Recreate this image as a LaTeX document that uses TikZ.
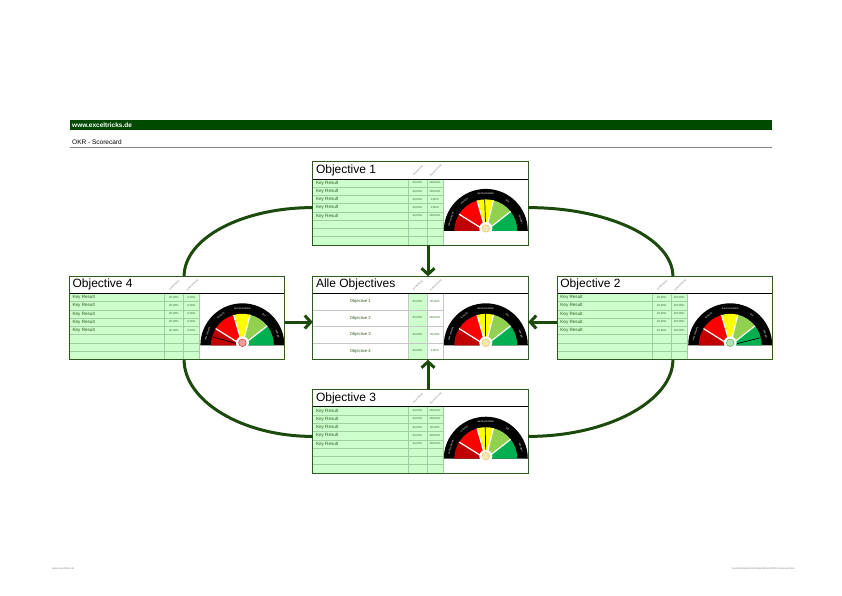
\documentclass[tikz,border=0pt]{standalone}
\usepackage{fontspec}
\setmainfont{Liberation Sans}
\usetikzlibrary{positioning, arrows.meta}

\definecolor{okrbar}{HTML}{004A00}
\definecolor{okrdark}{HTML}{1C4A0C}
\definecolor{okrframe}{HTML}{2F5A1F}
\definecolor{krfill}{HTML}{CCFFCC}
\definecolor{krline}{HTML}{9FCF9F}
\definecolor{krink}{HTML}{2E5A1E}
\definecolor{gdred}{HTML}{C00000}
\definecolor{gred}{HTML}{FF0000}
\definecolor{gyellow}{HTML}{FFFF00}
\definecolor{glgreen}{HTML}{92D050}
\definecolor{ggreen}{HTML}{00B050}
\definecolor{hubyellow}{HTML}{E8C860}
\definecolor{hubred}{HTML}{E02828}
\definecolor{hubgreen}{HTML}{58B858}

\tikzset{
  okrpanel/.style={fill=white, minimum width=215pt, minimum height=83pt, inner sep=0pt},
  okrtitle/.style={font=\fontsize{12}{14}\selectfont, inner sep=1pt},
  sitetext/.style={font=\fontsize{6.5}{7}\selectfont\bfseries, text=white, inner sep=1pt},
  subtext/.style={font=\fontsize{6.5}{7}\selectfont, inner sep=1pt},
  hdrtext/.style={font=\fontsize{2.4}{2.8}\selectfont, text=black!55, inner sep=0pt},
  krtext/.style={font=\fontsize{4.6}{5}\selectfont, text=krink, inner sep=0pt},
  pcttext/.style={font=\fontsize{2.8}{3}\selectfont, text=krink, inner sep=0pt},
  alltext/.style={font=\fontsize{4.2}{5}\selectfont, text=krink, inner sep=0pt},
  gaugelbl/.style={font=\fontsize{2.4}{2.8}\selectfont, text=white, inner sep=0pt},
  foottext/.style={font=\fontsize{2.6}{3}\selectfont, text=gray, inner sep=0pt},
  loopline/.style={draw=okrdark, line width=3pt},
  flowarrow/.style={draw=okrdark, line width=3pt, -{Straight Barb[length=6pt, width=13pt]}},
}

% title row of a panel
\newcommand{\okrhead}[2]{%
  \node[okrtitle, anchor=west] (#1-title) at ([xshift=2pt,yshift=-8.5pt]#1.north west) {#2};
  \draw[line width=0.8pt] ([yshift=-17pt]#1.north west) -- ([yshift=-17pt]#1.north east);
  \node[hdrtext, rotate=45] (#1-weight) at ([xshift=105pt,yshift=-9pt]#1.north west) {Gewichtung};
  \node[hdrtext, rotate=45] (#1-reach)  at ([xshift=123pt,yshift=-9pt]#1.north west) {Zielerreichung};
}

% key result table, #2 = achievement per row
\newcommand{\okrkeys}[2]{%
  \begin{scope}[shift={(#1.north west)}]
    \fill[krfill] (0,17) rectangle (130,83);
    \foreach \row in {1,...,7} \draw[krline, line width=0.4pt] (0,{17+\row*8.25}) -- (130,{17+\row*8.25});
    \draw[krline, line width=0.4pt] (95,17) -- (95,83) (114,17) -- (114,83) (130,17) -- (130,83);
    \foreach [count=\row] \q in {#2} {
      \node[krtext, anchor=west] at (3,{17+(\row-0.5)*8.25}) {Key Result};
      \node[pcttext] at (104.5,{17+(\row-0.5)*8.25}) {20,00\%};
      \node[pcttext] at (122,{17+(\row-0.5)*8.25}) {\q,00\%};
    }
  \end{scope}
}

% overview table
\newcommand{\okrall}[2]{%
  \begin{scope}[shift={(#1.north west)}]
    \fill[krfill] (95,17) rectangle (114,83);
    \foreach \row in {1,2,3} \draw[gray!45, line width=0.4pt] (0,{17+\row*16.5}) -- (130,{17+\row*16.5});
    \draw[gray!45, line width=0.4pt] (95,17) -- (95,83) (114,17) -- (114,83) (130,17) -- (130,83);
    \foreach [count=\row] \q in {#2} {
      \node[alltext] at (47.5,{17+(\row-0.5)*16.5}) {Objective \row};
      \node[pcttext] at (104.5,{17+(\row-0.5)*16.5}) {25,00\%};
      \node[pcttext] at (122,{17+(\row-0.5)*16.5}) {\q,00\%};
    }
  \end{scope}
}

% gauge, #2 = needle angle, #3 = hub colour
\newcommand{\okrgauge}[3]{%
  \begin{scope}[shift={([xshift=173pt,yshift=-69pt]#1.north west)}, x=1pt, y=1pt]
    \fill[black] (-42,0) arc[start angle=180, end angle=0, radius=42] -- cycle;
    \foreach \a/\b/\c in {148/180/gdred, 106/148/gred, 76/106/gyellow, 38/76/glgreen, 0/38/ggreen}
      \fill[\c] (0,0) -- (\a:31.5) arc[start angle=\a, end angle=\b, radius=31.5] -- cycle;
    \foreach \a in {38,76,106,148} \draw[white, line width=1.2pt] (0,0) -- (\a:31.5);
    \foreach \a/\t in {162/sehr schlecht, 126/schlecht, 90/durchschnittlich, 54/gut, 18/sehr gut}
      \node[gaugelbl, rotate=\a-90] at (\a:36.8) {\t};
    \draw[line width=0.7pt] (0,0) -- (#2:31.5);
    \fill[white] (0,2.5) circle (6.5);
    \draw[#3, fill=#3!45, line width=0.5pt] (0,2.5) circle (3.8);
  \end{scope}
}

\begin{document}
\begin{tikzpicture}[x=1pt, y=-1pt, node distance=30pt]
  \useasboundingbox (0,0) rectangle (842,595);

  % header
  \fill[okrbar] (70,120) rectangle (772,130);
  \node[sitetext, anchor=west] (site)  at (71,125) {www.exceltricks.de};
  \node[subtext, anchor=west]  (sheet) at (71,142) {OKR - Scorecard};
  \draw[gray, line width=0.6pt] (70,147) -- (772,147);

  % panels
  \node[okrpanel]                     (alle) at (420.5,318) {};
  \node[okrpanel, above=31pt of alle] (obj1) {};
  \node[okrpanel, right=29pt of alle] (obj2) {};
  \node[okrpanel, below=30pt of alle] (obj3) {};
  \node[okrpanel, left=28pt of alle]  (obj4) {};

  \okrkeys{obj1}{100,100,0,0,100}
  \okrkeys{obj2}{100,100,100,100,100}
  \okrkeys{obj3}{100,100,60,100,100}
  \okrkeys{obj4}{0,0,0,0,0}
  \okrall{alle}{60,100,92,0}

  \okrgauge{obj1}{92}{hubyellow}
  \okrgauge{obj2}{14}{hubgreen}
  \okrgauge{obj3}{91}{hubyellow}
  \okrgauge{obj4}{164}{hubred}
  \okrgauge{alle}{90}{hubyellow}

  \okrhead{obj1}{Objective 1}
  \okrhead{obj2}{Objective 2}
  \okrhead{obj3}{Objective 3}
  \okrhead{obj4}{Objective 4}
  \okrhead{alle}{Alle Objectives}

  \foreach \p in {alle,obj1,obj2,obj3,obj4}
    \draw[okrframe, line width=0.9pt] (\p.north west) rectangle (\p.south east);

  % loops
  \draw[loopline] ([yshift=-4pt]obj1.west) .. controls +(-71,0) and +(0,-38) .. ([xshift=7pt]obj4.north);
  \draw[loopline] ([xshift=7pt]obj4.south) .. controls +(0,41) and +(-71,0) .. ([yshift=-5pt]obj3.west);
  \draw[loopline] ([yshift=-4pt]obj1.east) .. controls +(80,0) and +(0,-38) .. ([xshift=8pt]obj2.north);
  \draw[loopline] ([xshift=8pt]obj2.south) .. controls +(0,41) and +(80,0) .. ([yshift=-5pt]obj3.east);

  % arrows into the overview
  \draw[flowarrow] ([xshift=7.5pt]obj1.south) -- ([xshift=7.5pt]alle.north);
  \draw[flowarrow] ([xshift=7.5pt]obj3.north) -- ([xshift=7.5pt]alle.south);
  \draw[flowarrow] ([yshift=-4pt]obj4.east) -- ([yshift=-4pt]alle.west);
  \draw[flowarrow] ([yshift=-4pt]obj2.west) -- ([yshift=-4pt]alle.east);

  % footer
  \node[foottext, anchor=west] (foot l) at (52,569) {www.exceltricks.de};
  \node[foottext, anchor=east] (foot r) at (795,569) {\textbackslash\textbackslash exceltricks\textbackslash daten\textbackslash Vorlagen\textbackslash Excel\textbackslash OKR-Scorecard.xlsx};
\end{tikzpicture}
\end{document}
